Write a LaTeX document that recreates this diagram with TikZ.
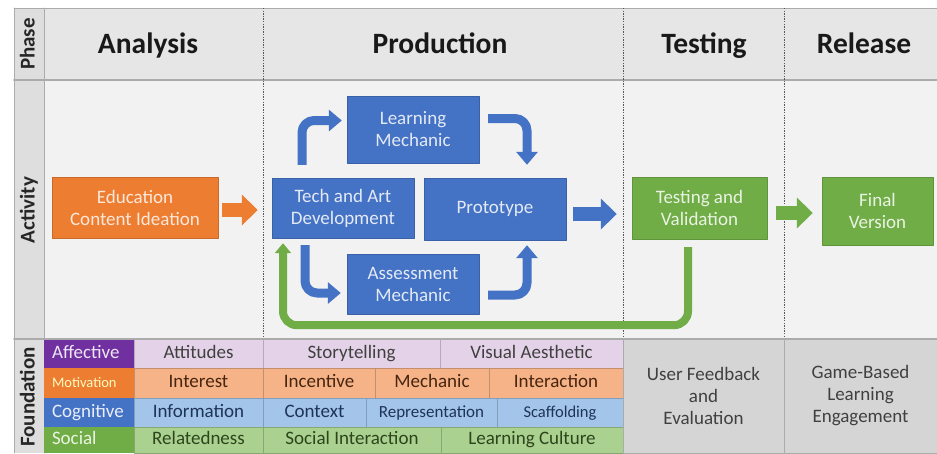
\documentclass[tikz,border=0pt]{standalone}
\usepackage{fontspec}
\setmainfont{Carlito}
\usetikzlibrary{arrows.meta}
\definecolor{headgray}{HTML}{E6E6E6}
\definecolor{actgray}{HTML}{F2F2F2}
\definecolor{labgray}{HTML}{DEDEDE}
\definecolor{rulegray}{HTML}{ABABAB}
\definecolor{footgray}{HTML}{D5D5D5}
\definecolor{boxorange}{HTML}{ED7D31}
\definecolor{boxblue}{HTML}{4472C4}
\definecolor{boxgreen}{HTML}{70AD47}
\definecolor{boxpurple}{HTML}{7030A0}
\definecolor{affpink}{HTML}{E4D3E8}
\definecolor{motsalmon}{HTML}{F5B387}
\definecolor{cogblue}{HTML}{A2C5E9}
\definecolor{socgreen}{HTML}{AAD18F}

\begin{document}
\begin{tikzpicture}[line cap=round,line join=round,x=1pt,y=-1pt,
	phasetext/.style={font=\fontsize{29.5}{33}\selectfont\bfseries,text=black!90,text height=21pt,text depth=6pt},
	rowlabel/.style={rotate=90,font=\fontsize{21}{24}\selectfont\bfseries,text=black!85,text height=15pt,text depth=4pt},
	stepbox/.style={rectangle,inner sep=0pt,align=center,font=\fontsize{19}{22}\selectfont},
	orangebox/.style={stepbox,fill=boxorange,draw=boxorange!85!black,text=boxorange!18!white},
	bluebox/.style={stepbox,fill=boxblue,draw=boxblue!85!black,text=boxblue!15!white},
	greenbox/.style={stepbox,fill=boxgreen,draw=boxgreen!85!black,text=boxgreen!15!white},
	cellbox/.style={rectangle,inner sep=0pt,align=center,font=\fontsize{19}{22}\selectfont,text height=13pt,text depth=4pt},
	catbox/.style={rectangle,inner xsep=8pt,inner ysep=0pt,text width=74pt,align=left,font=\fontsize{19}{22}\selectfont,text height=13pt,text depth=4pt},
	affcell/.style={cellbox,fill=affpink,draw=affpink!80!black,text=black!75},
	motcell/.style={cellbox,fill=motsalmon,draw=motsalmon!80!black,text=boxorange!30!black},
	cogcell/.style={cellbox,fill=cogblue,draw=cogblue!80!black,text=boxblue!45!black},
	soccell/.style={cellbox,fill=socgreen,draw=socgreen!80!black,text=boxgreen!40!black},
	footcell/.style={stepbox,fill=footgray,draw=rulegray,text=black!75,font=\fontsize{19}{22}\selectfont},
	phaseline/.style={draw=black!65,line width=1pt,dash pattern=on 1.3pt off 1.3pt,line cap=butt},
	fatarrow/.style={->,>={Triangle[width=30pt,length=16pt]},line width=14pt,line cap=butt,line join=miter},
	bendarrow/.style={->,>={Triangle[width=21pt,length=13pt]},line width=9pt,line cap=butt,rounded corners=12pt,draw=boxblue},
	backarrow/.style={->,>={Triangle[width=16pt,length=10pt]},line width=8pt,line cap=butt,rounded corners=14pt,draw=boxgreen}]
	\useasboundingbox (0,0) rectangle (937,453);
	\fill[headgray] (14,8) rectangle (937,80);
	\fill[actgray] (44,80) rectangle (937,339);
	\fill[labgray] (14,8) rectangle (44,453);
	\draw[rulegray,line width=0.8pt] (14,8) -- (937,8);
	\draw[rulegray,line width=0.8pt] (14,8) -- (14,453);
	\draw[rulegray,line width=0.8pt] (44,8) -- (44,453);
	\draw[rulegray,line width=1.6pt] (14,80) -- (937,80);
	\draw[phaseline] (263,8) -- (263,339);
	\draw[phaseline] (623,8) -- (623,339);
	\draw[phaseline] (784,8) -- (784,339);
	\node[rowlabel] (phase) at (29,44) {Phase};
	\node[rowlabel] (activity) at (29,210) {Activity};
	\node[rowlabel] (foundation) at (29,397) {Foundation};
	\node[phasetext] (analysis) at (148,46) {Analysis};
	\node[phasetext] (production) at (440,46) {Production};
	\node[phasetext] (testing) at (704,46) {Testing};
	\node[phasetext] (release) at (864,46) {Release};
	\node[orangebox,minimum width=166pt,minimum height=61pt] (edu) at (135,207.5) {Education\\Content Ideation};
	\node[bluebox,minimum width=142pt,minimum height=60pt] (tech) at (343,208) {Tech and Art\\Development};
	\node[bluebox,minimum width=142pt,minimum height=62pt] (proto) at (495,209) {Prototype};
	\node[bluebox,minimum width=132pt,minimum height=67pt] (learn) at (413,129.5) {Learning\\Mechanic};
	\node[bluebox,minimum width=132pt,minimum height=60pt] (assess) at (413,284) {Assessment\\Mechanic};
	\node[greenbox,minimum width=135pt,minimum height=62pt] (test) at (699.5,208) {Testing and\\Validation};
	\node[greenbox,minimum width=111pt,minimum height=68pt] (final) at (877.5,211) {Final\\Version};
	\draw[fatarrow,draw=boxorange,shorten <=4pt,shorten >=14pt] ([yshift=-2.5pt]edu.east) -- ([yshift=-2.5pt]edu.east -| tech.west);
	\draw[fatarrow,draw=boxblue,shorten <=7pt,shorten >=15pt] ([yshift=-5pt]proto.east) -- ([yshift=-5pt]proto.east -| test.west);
	\draw[fatarrow,draw=boxgreen,shorten <=9pt,shorten >=9pt] ([yshift=-5pt]test.east) -- ([yshift=-5pt]test.east -| final.west);
	\draw[bendarrow] ([xshift=-41pt,yshift=13pt]tech.north) |- ([xshift=-5pt,yshift=9pt]learn.west);
	\draw[bendarrow] ([xshift=9pt,yshift=11pt]learn.east) -| ([xshift=32pt,yshift=13pt]proto.north);
	\draw[bendarrow] ([xshift=-38pt,yshift=-7pt]tech.south) |- ([xshift=-6pt,yshift=-9pt]assess.west);
	\draw[bendarrow] ([xshift=9pt,yshift=-11pt]assess.east) -| ([xshift=32pt,yshift=-5pt]proto.south);
	\draw[backarrow] ([xshift=-11.5pt,yshift=-8pt]test.south) -- ++(0,78) -| ([xshift=-60pt,yshift=-5pt]tech.south);
	\node[catbox,fill=boxpurple,text=boxpurple!12!white,minimum height=29pt] (affective) at (89,353.5) {Affective};
	\node[catbox,fill=boxorange,text=yellow!25!white,minimum height=30pt,font=\fontsize{14.5}{18}\selectfont] (motivation) at (89,383) {Motivation};
	\node[catbox,fill=boxblue,text=boxblue!12!white,minimum height=29pt] (cognitive) at (89,412.5) {Cognitive};
	\node[catbox,fill=boxgreen,text=boxgreen!15!white,minimum height=26pt] (social) at (89,440) {Social};
	\node[affcell,minimum width=129pt,minimum height=29pt] (attitudes) at (198.5,353.5) {Attitudes};
	\node[affcell,minimum width=177pt,minimum height=29pt] (story) at (351.5,353.5) {Storytelling};
	\node[affcell,minimum width=183pt,minimum height=29pt] (visual) at (531.5,353.5) {Visual Aesthetic};
	\node[motcell,minimum width=129pt,minimum height=30pt] (interest) at (198.5,383) {Interest};
	\node[motcell,minimum width=112pt,minimum height=30pt] (incentive) at (319,383) {Incentive};
	\node[motcell,minimum width=114pt,minimum height=30pt] (mechanic) at (432,383) {Mechanic};
	\node[motcell,minimum width=134pt,minimum height=30pt] (interaction) at (556,383) {Interaction};
	\node[cogcell,minimum width=129pt,minimum height=29pt] (information) at (198.5,412.5) {Information};
	\node[cogcell,minimum width=103pt,minimum height=29pt] (context) at (314.5,412.5) {Context};
	\node[cogcell,minimum width=131pt,minimum height=29pt,font=\fontsize{17}{20}\selectfont] (represent) at (431.5,412.5) {Representation};
	\node[cogcell,minimum width=126pt,minimum height=29pt,font=\fontsize{16.5}{20}\selectfont] (scaffold) at (560,412.5) {Scaffolding};
	\node[soccell,minimum width=129pt,minimum height=26pt] (related) at (198.5,440) {Relatedness};
	\node[soccell,minimum width=178pt,minimum height=26pt] (socinter) at (352,440) {Social Interaction};
	\node[soccell,minimum width=182pt,minimum height=26pt] (culture) at (532,440) {Learning Culture};
	\node[footcell,minimum width=161pt,minimum height=114pt] (feedback) at (703.5,396) {User Feedback\\and\\Evaluation};
	\node[footcell,minimum width=153pt,minimum height=114pt] (engage) at (860.5,396) {Game-Based\\Learning\\Engagement};
	\draw[rulegray,line width=1.6pt] (14,339) -- (937,339);
\end{tikzpicture}
\end{document}
